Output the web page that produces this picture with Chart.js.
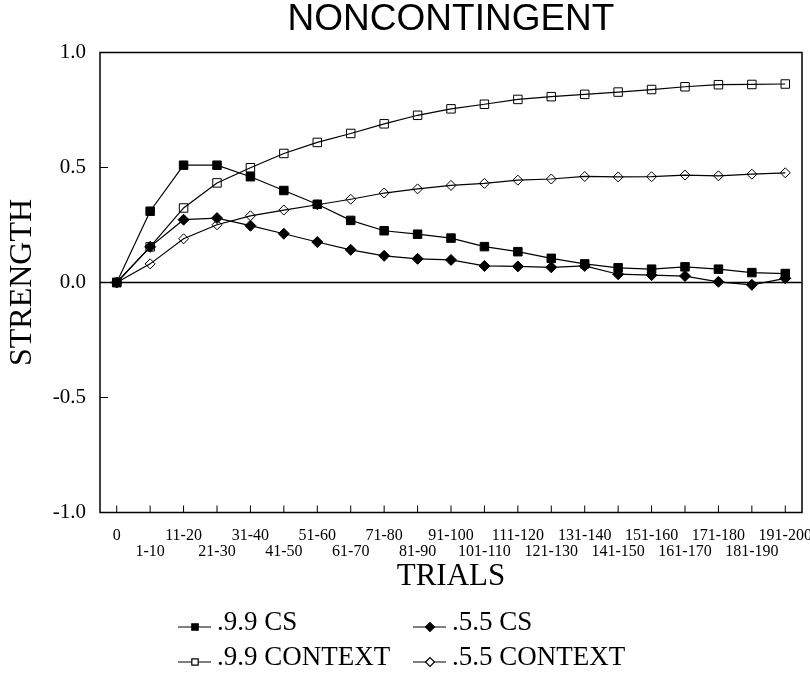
<!DOCTYPE html>
<html>
<head>
<meta charset="utf-8">
<script src="https://cdn.jsdelivr.net/npm/chart.js@4.4.0/dist/chart.umd.min.js"></script>
<style>
  html, body { margin: 0; padding: 0; background: #fff; }
  #wrap { width: 810px; height: 673px; position: relative; }
</style>
</head>
<body>
<div id="wrap"><canvas id="chart"></canvas></div>
<script>
const trials = ['0', '1-10', '11-20', '21-30', '31-40', '41-50', '51-60', '61-70', '71-80', '81-90', '91-100',
  '101-110', '111-120', '121-130', '131-140', '141-150', '151-160', '161-170', '171-180', '181-190', '191-200'];

const cs99 = [0, 0.31, 0.51, 0.51, 0.46, 0.40, 0.34, 0.27, 0.225, 0.21, 0.193,
  0.156, 0.134, 0.105, 0.081, 0.064, 0.058, 0.068, 0.058, 0.043, 0.039];
const cs55 = [0, 0.155, 0.273, 0.28, 0.247, 0.212, 0.176, 0.142, 0.116, 0.103, 0.098,
  0.072, 0.07, 0.066, 0.072, 0.036, 0.032, 0.028, 0.003, -0.01, 0.018];
const context99 = [0, 0.155, 0.324, 0.433, 0.499, 0.561, 0.609, 0.648, 0.69, 0.727, 0.755,
  0.775, 0.796, 0.808, 0.818, 0.828, 0.839, 0.851, 0.86, 0.861, 0.863];
const context55 = [0, 0.081, 0.19, 0.251, 0.29, 0.315, 0.338, 0.362, 0.389, 0.407, 0.422,
  0.431, 0.445, 0.45, 0.461, 0.459, 0.46, 0.467, 0.464, 0.471, 0.477];

const yTicks = [-1, -0.5, 0, 0.5, 1];

const serif = "'Liberation Serif', 'Times New Roman', serif";
const sans = "'Liberation Sans', Arial, sans-serif";

// frame, zero line, inward ticks, title and the 2x2 legend
const framePlugin = {
  id: 'frame',
  beforeDatasetsDraw(chart) {
    const { ctx, scales: { x, y } } = chart;
    const l = x.left, r = x.right, t = y.top, b = y.bottom;
    ctx.save();
    ctx.strokeStyle = '#000';
    ctx.lineWidth = 1.5;
    ctx.strokeRect(l, t, r - l, b - t);
    const y0 = y.getPixelForValue(0);
    ctx.beginPath();
    ctx.moveTo(l, y0);
    ctx.lineTo(r, y0);
    ctx.stroke();
    ctx.lineWidth = 1;
    ctx.beginPath();
    x.ticks.forEach((tk, i) => {
      const px = x.getPixelForTick(i);
      ctx.moveTo(px, b);
      ctx.lineTo(px, b - 7);
    });
    y.ticks.forEach((tk, i) => {
      const py = y.getPixelForTick(i);
      ctx.moveTo(l, py);
      ctx.lineTo(l + 8, py);
    });
    ctx.stroke();
    ctx.restore();
  },
  afterDraw(chart) {
    const { ctx, scales: { x } } = chart;
    ctx.save();
    ctx.fillStyle = '#000';
    ctx.font = '37px ' + sans;
    ctx.textAlign = 'center';
    ctx.textBaseline = 'alphabetic';
    ctx.fillText('NONCONTINGENT', (x.left + x.right) / 2, 30);

    const cols = [178, 413];
    const rows = [630, 665];
    ctx.font = '27px ' + serif;
    ctx.textAlign = 'left';
    chart.data.datasets.forEach((ds, i) => {
      const lx = cols[i % 2];
      const base = rows[Math.floor(i / 2)];
      const ly = base - 3;
      ctx.strokeStyle = '#000';
      ctx.lineWidth = 1.2;
      ctx.beginPath();
      ctx.moveTo(lx, ly);
      ctx.lineTo(lx + 33, ly);
      ctx.stroke();
      ctx.fillStyle = ds.open ? '#fff' : '#000';
      Chart.helpers.drawPoint(ctx, {
        pointStyle: ds.pointStyle,
        radius: 4.5,
        borderWidth: 1,
        rotation: 0
      }, lx + 17, ly);
      ctx.fillStyle = '#000';
      ctx.fillText(ds.label, lx + 39, base);
    });
    ctx.restore();
  }
};

const lineStyle = {
  borderColor: '#000',
  borderWidth: 1.2,
  pointBorderColor: '#000',
  pointBorderWidth: 1,
  tension: 0
};

new Chart(document.getElementById('chart'), {
  type: 'line',
  data: {
    labels: trials,
    datasets: [
      { ...lineStyle, label: '.9.9 CS', data: cs99, pointStyle: 'rect', pointRadius: 6, pointBackgroundColor: '#000' },
      { ...lineStyle, label: '.5.5 CS', data: cs55, pointStyle: 'rectRot', pointRadius: 5.5, pointBackgroundColor: '#000' },
      { ...lineStyle, label: '.9.9 CONTEXT', data: context99, pointStyle: 'rect', pointRadius: 6, pointBackgroundColor: 'rgba(0,0,0,0)', open: true },
      { ...lineStyle, label: '.5.5 CONTEXT', data: context55, pointStyle: 'rectRot', pointRadius: 5, pointBackgroundColor: 'rgba(0,0,0,0)', open: true }
    ]
  },
  options: {
    responsive: true,
    maintainAspectRatio: false,
    animation: false,
    layout: { padding: { top: 52.5, right: 8, bottom: 75.5, left: 0 } },
    plugins: {
      legend: { display: false },
      title: { display: false },
      tooltip: { enabled: false }
    },
    scales: {
      x: {
        type: 'category',
        offset: true,
        grid: { display: false, drawTicks: false },
        border: { display: false },
        ticks: {
          autoSkip: false,
          maxRotation: 0,
          minRotation: 0,
          padding: 15,
          color: '#000',
          font: { family: serif, size: 16, lineHeight: 1.03 },
          callback: (v, i) => (i % 2 ? ['', trials[i]] : [trials[i]])
        },
        title: {
          display: true,
          text: 'TRIALS',
          color: '#000',
          font: { family: serif, size: 31 },
          padding: { top: 0, bottom: 2 }
        },
        afterFit(s) {
          s.height = 85;
          s.paddingLeft = 0;
          s.paddingRight = 0;
        }
      },
      y: {
        min: -1,
        max: 1,
        grid: { display: false, drawTicks: false },
        border: { display: false },
        afterBuildTicks(s) { s.ticks = yTicks.map(v => ({ value: v })); },
        ticks: {
          padding: 14,
          color: '#000',
          font: { family: serif, size: 21 },
          callback: v => v.toFixed(1)
        },
        title: {
          display: true,
          text: 'STRENGTH',
          color: '#000',
          font: { family: serif, size: 32 },
          padding: { top: 3, bottom: 0 }
        },
        afterFit(s) { s.width = 100; }
      }
    }
  },
  plugins: [framePlugin]
});
</script>
</body>
</html>
